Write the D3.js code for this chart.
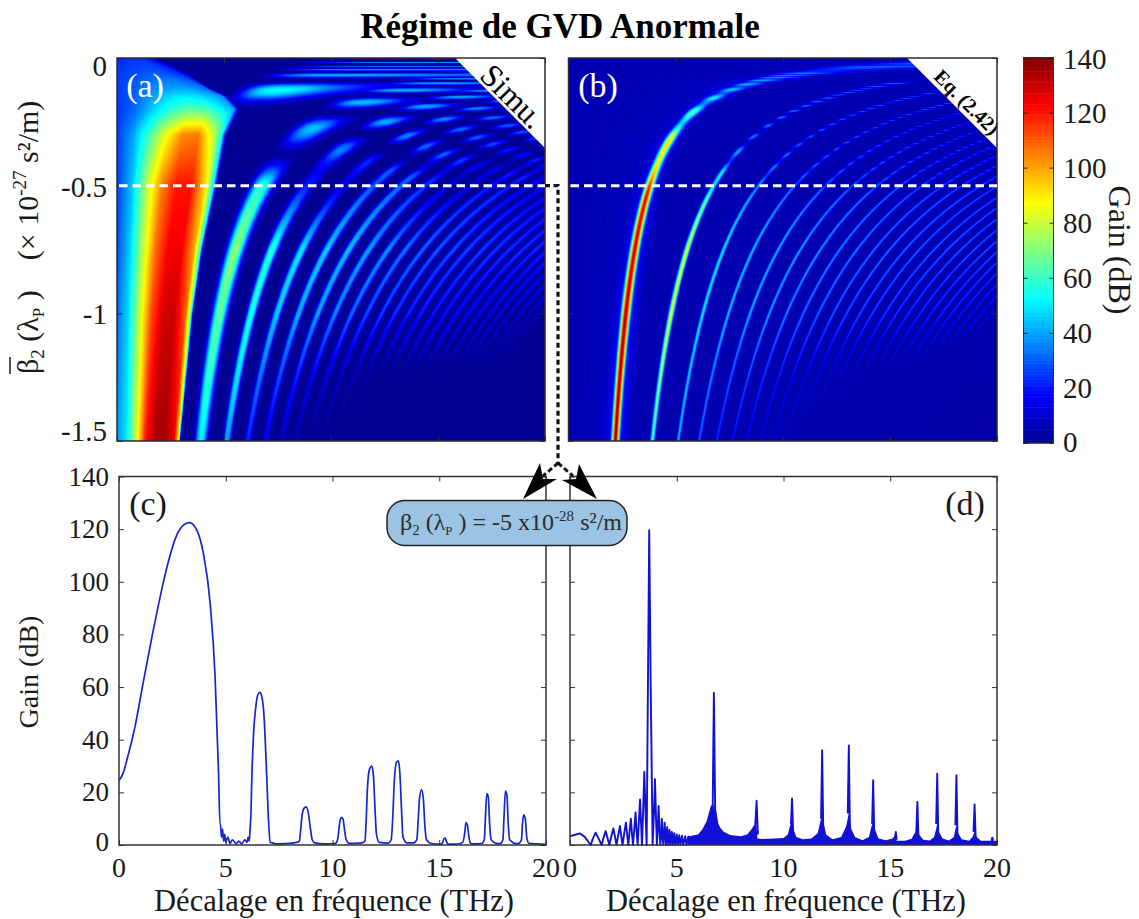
<!DOCTYPE html>
<html><head><meta charset="utf-8">
<script src="https://cdn.jsdelivr.net/npm/d3@7"></script>
<style>
html,body{margin:0;padding:0;background:#fff}
svg{display:block}
text{font-family:"Liberation Serif",serif;fill:#1a1a1a;white-space:pre}
</style></head><body>
<div id="chart"></div>
<script>
// ---------- texts and ticks ----------
const titleText = "Régime de GVD Anormale";
const xLabelText = "Décalage en fréquence (THz)";
const panelBetaTicks = [0, -0.5, -1, -1.5];
const panelFreqTicks = [0, 5, 10, 15, 20];
const gainTicks = [0, 20, 40, 60, 80, 100, 120, 140];
const jetStops = [0, 17.5, 52.5, 87.5, 122.5, 140];
const jetColors = ["#00008f", "#0000ff", "#00ffff", "#ffff00", "#ff0000", "#800000"];

// ---------- ridges of the maps: frequency (THz) of each ridge read on the row beta = -1 ----------
const ridgeFreqAtUnit = [2.68,4.80,6.28,7.48,8.49,9.39,10.2,10.98,11.68,12.38,13.0,13.63,14.2,14.8,15.34,15.89,16.43,16.95,17.45,17.91,18.38,18.85,19.3,19.75,20.2,20.6,21.0];
// |beta| rows on which the gain of every ridge was read
const ridgeLevels = [1.5,1.25,1,0.75,0.5,0.3,0.15,0.05];
const ridgeGainA = [
[0,0,0,0,0,0,58,38],[50,60,66,72,58,44,44,36],[40,50,56,58,22,42,40,34],[22,34,46,50,14,36,36,32],
[14,28,42,46,30,32,32,30],[8,22,40,44,32,30,30,28],[4,16,36,40,24,28,28,26],[0,12,32,38,10,26,26,24],
[0,8,28,34,12,24,24,22],[0,5,26,32,20,24,22,20],[0,3,24,30,22,22,21,20],[0,0,22,28,16,22,20,18],
[0,0,21,27,16,20,19,17],[0,0,20,26,16,20,18,16],[0,0,19,25,16,19,18,16],[0,0,18,24,15,18,17,15],
[0,0,16,24,15,18,17,15],[0,0,15,23,15,17,16,14],[0,0,13,22,15,17,15,14],[0,0,12,22,14,16,15,13],
[0,0,10,21,14,16,14,13],[0,0,9,20,14,15,14,12],[0,0,7,20,14,15,14,12],[0,0,6,19,14,14,13,11],
[0,0,0,18,13,14,13,10],[0,0,0,17,13,14,13,10],[0,0,0,16,13,14,12,10]];
const ridgeGainB = [
[138,136,134,130,124,88,50,34],[62,74,84,84,60,34,32,28],[44,48,52,52,40,30,28,25],[32,38,46,46,34,28,26,24],
[24,32,44,44,32,26,24,22],[20,30,42,42,32,26,22,20],[16,26,38,40,32,25,22,20],[13,22,36,38,30,24,22,18],
[10,18,34,36,28,24,20,18],[8,15,32,34,28,22,20,16],[6,13,30,34,28,22,20,16],[5,11,29,32,28,22,20,16],
[4,9,28,32,26,22,20,16],[3,8,27,32,26,22,20,16],[2,7,26,31,25,21,19,15],[2,6,25,31,24,21,19,15],
[1,5,24,30,24,21,19,14],[1,4,23,30,23,20,18,14],[0,4,23,29,23,20,18,14],[0,3,22,29,22,20,18,14],
[0,2,20,28,22,19,17,13],[0,2,18,27,22,19,17,13],[0,1,16,26,21,18,16,12],[0,0,14,26,21,18,16,12],
[0,0,10,25,20,17,15,12],[0,0,8,24,20,17,15,12],[0,0,6,24,20,17,15,12]];
const ridgeWidthA = [11,7,4.5,3.8,3.4,3.2,3,2.8,2.6,2.4,2.4,2.4,2.4,2.3,2.3,2.2,2.2,2.1,2.1,2,2,2,2,2,2,2,2];
const ridgeWidthB = [4.4,2.7,2.1,1.9,1.8,1.7,1.7,1.6,1.6,1.6,1.6,1.6,1.5,1.5,1.5,1.5,1.5,1.5,1.5,1.5,1.5,1.5,1.5,1.5,1.5,1.5,1.5];
const faintArcFreqB = [0.85,1.18,1.44,1.66,1.85,2.02,2.17,2.32,2.46];
const faintArcGainB = [9,9,9,10,10,11,12,14,16];

// ---------- broad main lobe of map (a) ----------
const lobeLevels = [1.5,1,0.75,0.5,0.3,0.2,0.15,0.12,0.05,0];
const lobeEdgeFreq = [2.95,3.55,4.0,4.65,5.05,5.65,5.1,4.35,3.0,1.7];
const lobeShare = [0,0.15,0.3,0.45,0.6,0.75,0.9,0.97,1,1.02];
const lobeGain = [
[38,50,80,120,135,135,125,90,20,0],
[32,48,80,112,128,130,110,70,12,0],
[28,46,78,108,124,125,100,62,10,0],
[26,44,78,105,120,120,89,50,8,0],
[25,40,62,85,103,106,78,55,20,0],
[24,32,46,58,65,62,48,40,15,0],
[25,30,38,46,50,48,42,36,12,0],
[25,29,34,38,40,40,36,30,10,0],
[25,26,27,28,28,26,22,15,5,0],
[22,23,24,24,24,22,18,12,4,0]];

// ---------- spectrum (c) ----------
const cFreq = [0,0.18,0.36,0.75,1.14,1.53,1.92,2.31,2.7,3.02,3.3,3.64,3.95,4.27,4.5,4.66,4.73,4.75,4.8,4.85,4.9,4.95,5,5.1,5.2,5.3,5.5,5.6,5.75,5.9,6,6.05,6.1,6.14,6.18,6.22,6.3,6.4,6.5,6.6,6.7,6.8,6.9,7.0,7.08,7.2,7.4,7.7,8.0,8.32,8.45,8.5,8.57,8.67,8.77,8.87,8.97,9.05,9.17,9.6,10.09,10.19,10.26,10.33,10.41,10.49,10.56,10.64,10.79,11.39,11.52,11.57,11.64,11.74,11.84,11.91,11.99,12.06,12.19,12.6,12.75,12.82,12.9,13.0,13.08,13.15,13.23,13.3,13.5,13.8,13.95,14.01,14.08,14.17,14.25,14.33,14.4,14.65,15.0,15.13,15.18,15.23,15.28,15.33,15.43,15.8,16.1,16.2,16.25,16.32,16.4,16.47,16.6,16.98,17.11,17.16,17.23,17.3,17.36,17.43,17.68,17.85,17.98,18.03,18.1,18.17,18.23,18.3,18.6,18.7,18.85,18.9,18.95,19.03,19.1,19.2,20];
const cGain = [24.5,27,32,45,62,78.5,94,107.6,117.6,121.5,122.5,119.7,110.8,91.8,64,28,8,8,3,6,1.5,4,1,3,0.5,2,0.5,1.5,0.5,2,1,3,1.5,6,12,25,42,52,57,58,56,48,30,10,1,0.8,0.4,0.5,0.6,1,1.5,5,11,14,14.5,12,6,2,0.8,0.4,0.5,1,3,8,10.5,10,6,2,0.6,0.8,1.5,8,22,29,30,27,14,4,1,0.7,2,10,25,31.5,32,28,14,3,0.8,0.8,2,9,18,21,18,7,2,0.5,0.3,0.5,1.5,2.5,2.6,1.5,0.3,0.3,1,5,8.5,7.5,2.5,0.5,0.4,0.5,2,10,19.5,18,8,2,0.6,0.5,2,10,20.5,19,8,2,0.5,0.5,2,8,11.5,10,3,0.6,0.2];

// ---------- spectrum (d): low oscillations, then one stroke per narrow peak (null = pen up) ----------
const dFreq = [0,0.2,0.47,0.7,0.97,1.08,1.2,1.34,1.48,1.58,1.67,1.76,1.84,1.94,2.03,2.11,2.18,2.26,2.34,2.4,2.46,2.54,2.62,2.68,2.73,2.79,2.85,2.9,2.95,3.01,3.07,3.12,3.17,3.22,3.28,3.33,3.37,3.43,3.48,3.54,3.59,3.65,3.71,3.78,3.87,3.93,3.98,4.03,4.07,4.11,4.15,4.19,4.23,4.27,4.3,4.33,4.37,4.43,4.49,4.55,4.6,4.66,4.71,4.77,4.82,4.88,4.93,5,5.05,5.12,5.17,5.25,5.3,5.4,5.45,5.55,5.6,5.6,6.68,6.74,6.8,6.8,8.68,8.74,8.8,8.8,10.35,10.4,10.45,10.45,11.76,11.81,11.86,11.86,13.01,13.06,13.11,13.11,14.15,14.2,14.25,14.25,15.22,15.26,15.3,15.3,16.22,16.27,16.32,16.32,17.15,17.2,17.25,17.25,18.05,18.1,18.15,18.15,18.9,18.95,19.0,19.0,19.74,19.78,19.82];
const dGain = [3.4,3.8,4.4,3,0,2.6,4.7,2.4,0,3,5.3,2.6,0,3.4,6.3,3,0,3.8,7.2,3.4,0,4.4,8.5,3.8,0,5,10,4.4,0,6,12.4,5,0,8,17.3,8,0,14,27.8,12,0,60,119.6,60,0,12,25,10,0,6,14.8,6,0,4,10,4,0,8.5,0,6.8,0,5.7,0,5,0,4.5,0,4,0,3.7,0,3.5,0,3.3,0,3.2,0,null,12,57.8,12,null,8,16.8,4,null,8,17.7,5,null,10,36,6,null,12,37.8,6,null,8,24.6,4,null,2.5,5,2,null,5,16.4,3,null,8,27.1,4,null,7.5,26.5,3,null,5,15.4,3,null,2,2.8,2];
const dBandFreq = [5.5,6,6.2,6.4,6.5,6.6,6.72,6.85,6.95,7.05,7.2,7.5,8,8.3,8.5,8.65,8.72,8.78,9,9.6,10,10.2,10.33,10.4,10.47,10.6,10.9,11.3,11.6,11.73,11.81,11.89,12,12.3,12.7,12.93,13.06,13.18,13.35,13.7,14,14.12,14.2,14.28,14.45,14.8,15.1,15.26,15.3,15.7,16,16.18,16.27,16.35,16.55,16.85,17.05,17.15,17.2,17.28,17.45,17.75,17.98,18.05,18.1,18.18,18.35,18.7,18.85,18.95,19.05,19.25,19.7,19.8,19.85,20];
const dBandTop = [3.2,4,6,9,12,15,15,13,8,6.5,5,3.8,3.3,4,6,8,10,2.5,2.3,2.5,2.7,4,8,10,6,3,2.2,2.5,4.5,9,11,8,4,2.2,3,7,12,6,3,1.8,3,7,9,6,2.5,1.8,2.5,4,1.6,1.6,2.4,5,7,4,2,1.7,3,6,8.5,5,2.5,1.7,3,6,7.5,4.5,2.2,1.6,3,5,3,1.6,1.6,2.8,1.6,1.6];

// ---------- layout ----------
const W = 1139, H = 919;
const mapTop = 58, mapBottom = 441;
const mapA = {left:117, right:545}, mapB = {left:568.5, right:997};
const specTop = 476.5, specBottom = 845;
const specC = {left:119, right:546}, specD = {left:570, right:997};
const barBox = {left:1023.5, right:1053.5, top:57.5, bottom:443};

const svg = d3.select("#chart").append("svg").attr("width",W).attr("height",H).attr("viewBox",[0,0,W,H]);
const jet = d3.scaleLinear().domain(jetStops).range(jetColors).clamp(true);

function renderMap(box, gainRows, widths, opt){
  const sx = d3.scaleLinear().domain([0,20]).range([box.left,box.right]);
  const sy = d3.scaleLinear().domain([0,-1.5]).range([mapTop,mapBottom]);
  const w = Math.round(box.right-box.left), h = mapBottom-mapTop;
  const cv = document.createElement("canvas"); cv.width=w; cv.height=h;
  const ctx = cv.getContext("2d"), img = ctx.createImageData(w,h);
  const pxPerF = (box.right-box.left)/20, pxPerB = h/1.5;
  const ampScales = gainRows.map(r=>d3.scaleLinear().domain(ridgeLevels).range(r).clamp(true));
  const lobeCols = lobeShare.map((_,j)=>d3.scaleLinear().domain(lobeLevels).range(lobeGain.map(r=>r[j])).clamp(true));
  const edge = d3.scaleLinear().domain(lobeLevels).range(lobeEdgeFreq).clamp(true);
  const rgbCache = d3.range(0,1401).map(i=>d3.rgb(jet(i/10)));
  const ridgeAt = d3.scalePow().exponent(-0.5).domain([1,0.25]).range([1,2]);
  // pixel distance from a point to the curve f = c / sqrt(beta)
  const dist=(f,beta,c,fc)=>{
    const dx=Math.abs(f-fc)*pxPerF;
    const br=(c/f)*(c/f), dy=Math.abs(beta-br)*pxPerB;
    return dx*dy/Math.sqrt(dx*dx+dy*dy+1e-6);
  };
  for(let row=0;row<h;row++){
    const beta = Math.max(0.003,-sy.invert(mapTop+row+0.5));
    const factor = ridgeAt(beta);
    const ramp = opt.beadRamp(beta);
    const list = ridgeFreqAtUnit.map((c,k)=>({c, f:c*factor, amp:ampScales[k](beta),
      w:widths[k]*Math.min(k<3?opt.capNear:opt.capFar,Math.pow(1/beta,0.45)), k}));
    const arcs = opt.arcs?opt.arcs.map((c,i)=>({c,f:c*factor,amp:opt.arcGain[i]*(beta<0.08?0.6:1)})):[];
    let lobe=null;
    if(opt.lobe){ lobe={edge:edge(beta), s:d3.scaleLinear().domain(lobeShare).range(lobeCols.map(c=>c(beta))).clamp(true)}; }
    for(let col=0;col<w;col++){
      const f=(col+0.5)/pxPerF;
      let g=opt.base(f,beta);
      for(const r of list){
        if(r.amp<=0) continue;
        const d=dist(f,beta,r.c,r.f);
        if(d>45) continue;
        const q=d/r.w;
        let v=0;
        if(q<3){ v=r.amp*Math.exp(-Math.pow(q,opt.sharp)); }
        if(ramp>0){
          const phase=Math.PI*(r.f*r.f-opt.beadStart-opt.beadStep*r.k)/opt.beadPeriod;
          const m=Math.cos(phase), depth=ramp*(r.k===0?opt.firstBead:1);
          v*=1-depth+depth*m*m;
        }
        if(opt.halo){
          const haloAmp=r.k===0?0.2:0.12;
          v=Math.max(v,r.amp*haloAmp*Math.exp(-d/(r.k===0?11:4)));
        }
        if(v>g) g=v;
      }
      for(const r of arcs){
        const d=dist(f,beta,r.c,r.f);
        if(d<3){ const v=r.amp*Math.exp(-(d*d)/1.6); if(v>g) g=v; }
      }
      if(lobe){ const v=lobe.s(f/lobe.edge); if(v>g) g=v; }
      const c=rgbCache[Math.round(Math.min(140,g)*10)], i=4*(row*w+col);
      img.data[i]=c.r; img.data[i+1]=c.g; img.data[i+2]=c.b; img.data[i+3]=255;
    }
  }
  ctx.putImageData(img,0,0);
  svg.append("image").attr("href",cv.toDataURL()).attr("x",box.left).attr("y",mapTop)
    .attr("width",box.right-box.left).attr("height",h).attr("preserveAspectRatio","none")
    .style("filter","blur(0.6px)");
  return {sx,sy};
}

const mapScaleA = renderMap(mapA, ridgeGainA, ridgeWidthA, {
  sharp:2.6, lobe:true, halo:false, base:()=>0.6, firstBead:1, capNear:1.5, capFar:1.15,
  beadRamp:b=>d3.scaleLinear().domain([0.5,0.38]).range([0,1]).clamp(true)(b),
  beadStart:58, beadStep:25, beadPeriod:50
});
const mapScaleB = renderMap(mapB, ridgeGainB, ridgeWidthB, {
  sharp:2, lobe:false, halo:true, base:(f,b)=>5.5-Math.min(2,f*b/15), firstBead:0.45, capNear:1, capFar:1,
  beadRamp:b=>d3.scaleLinear().domain([0.55,0.3]).range([0,0.8]).clamp(true)(b),
  beadStart:10, beadStep:5, beadPeriod:12,
  arcs:faintArcFreqB, arcGain:faintArcGainB
});

// corner flags
function corner(box, label, size, weight, cx, cy){
  svg.append("path").attr("d",d3.line()([[box.right-90,mapTop],[box.right,mapTop],[box.right,mapTop+90]])+"Z").attr("fill","#fff");
  svg.append("text").attr("transform",`translate(${cx},${cy}) rotate(45)`).attr("text-anchor","middle")
     .attr("font-size",size).attr("font-weight",weight).style("fill","#000").text(label);
}
corner(mapA,"Simu.",32,"normal",505,104);
corner(mapB,"Eq. (2.42)",20,"bold",962,107);

function frame(box,top,bottom,sx,sy,yTicks,stroke){
  const g=svg.append("g");
  const size=5;
  g.append("g").attr("transform",`translate(0,${bottom})`).call(d3.axisBottom(sx).tickValues(panelFreqTicks).tickSizeInner(-size).tickSizeOuter(0).tickFormat(""));
  g.append("g").attr("transform",`translate(0,${top})`).call(d3.axisTop(sx).tickValues(panelFreqTicks).tickSizeInner(-size).tickSizeOuter(0).tickFormat(""));
  g.append("g").attr("transform",`translate(${box.left},0)`).call(d3.axisLeft(sy).tickValues(yTicks).tickSizeInner(-size).tickSizeOuter(0).tickFormat(""));
  g.append("g").attr("transform",`translate(${box.right},0)`).call(d3.axisRight(sy).tickValues(yTicks).tickSizeInner(-size).tickSizeOuter(0).tickFormat(""));
  g.selectAll(".domain").remove();
  g.selectAll("line").attr("stroke",stroke).attr("stroke-width",1);
  g.append("rect").attr("x",box.left).attr("y",top).attr("width",box.right-box.left).attr("height",bottom-top)
    .attr("fill","none").attr("stroke",stroke).attr("stroke-width",1.5);
}
frame(mapA,mapTop,mapBottom,mapScaleA.sx,mapScaleA.sy,panelBetaTicks,"#2a2a3a");
frame(mapB,mapTop,mapBottom,mapScaleB.sx,mapScaleB.sy,panelBetaTicks,"#2a2a3a");

// dashed level lines
[[mapA,mapScaleA],[mapB,mapScaleB]].forEach(([b,s])=>{
  svg.append("line").attr("x1",b.left+2).attr("x2",b.right).attr("y1",s.sy(-0.5)).attr("y2",s.sy(-0.5))
    .attr("stroke","#fff").attr("stroke-width",3).attr("stroke-dasharray","8.5,5");
});

// tick labels of the maps
function label(x,y,t,size,anchor,fill){
  return svg.append("text").attr("x",x).attr("y",y).attr("font-size",size).attr("text-anchor",anchor||"middle").style("fill",fill||"#1a1a1a").text(t);
}
panelBetaTicks.forEach(v=>label(107,mapScaleA.sy(v)+(v===0?18:v===-1.5?0:11),String(v),29,"end"));

// colour bar
const barY = d3.scaleLinear().domain([0,140]).range([barBox.bottom,barBox.top]);
svg.append("g").selectAll("rect").data(d3.range(0,140,1)).join("rect")
  .attr("x",barBox.left).attr("width",barBox.right-barBox.left)
  .attr("y",d=>barY(d+1)).attr("height",d=>barY(d)-barY(d+1)+0.5).attr("fill",d=>jet(d+0.5));
svg.append("rect").attr("x",barBox.left).attr("y",barBox.top).attr("width",barBox.right-barBox.left).attr("height",barBox.bottom-barBox.top).attr("fill","none").attr("stroke","#333");
const barAxis = svg.append("g").attr("transform",`translate(${barBox.right},0)`).call(d3.axisRight(barY).tickValues(gainTicks).tickSizeInner(-4).tickSizeOuter(0).tickFormat(""));
barAxis.select(".domain").remove(); barAxis.selectAll("line").attr("stroke","#222");
const barAxisL = svg.append("g").attr("transform",`translate(${barBox.left},0)`).call(d3.axisLeft(barY).tickValues(gainTicks).tickSizeInner(-4).tickSizeOuter(0).tickFormat(""));
barAxisL.select(".domain").remove(); barAxisL.selectAll("line").attr("stroke","#222");
gainTicks.forEach(v=>label(1063,v===140?69:v===0?452:barY(v)+10,String(v),29,"start"));
svg.append("text").attr("transform","translate(1109,250) rotate(90)").attr("text-anchor","middle").attr("font-size",32).text("Gain (dB)");

// spectra
function spectrum(box,xs,ys,color,curve,lw,band){
  const sx=d3.scaleLinear().domain([0,20]).range([box.left,box.right]);
  const sy=d3.scaleLinear().domain([0,140]).range([specBottom,specTop]);
  if(band){
    svg.append("path").attr("fill",color)
      .attr("d",d3.area().x(i=>sx(band.x[i])).y0(sy(0)).y1(i=>sy(band.y[i]))(d3.range(band.x.length)));
  }
  svg.append("path").attr("fill","none").attr("stroke",color).attr("stroke-width",lw).attr("stroke-linejoin","round")
    .attr("d",d3.line().defined(i=>ys[i]!==null).x(i=>sx(xs[i])).y(i=>sy(ys[i])).curve(curve)(d3.range(xs.length)));
  frame(box,specTop,specBottom,sx,sy,gainTicks,"#333");
  panelFreqTicks.forEach(v=>label(sx(v),877,String(v),28));
  return {sx,sy};
}
const specScaleC=spectrum(specC,cFreq,cGain,"#1228cc",d3.curveMonotoneX,1.7);
spectrum(specD,dFreq,dGain,"#1010d6",d3.curveLinear,1.9,{x:dBandFreq,y:dBandTop});
gainTicks.forEach(v=>label(109,specScaleC.sy(v)+(v===0?6:9),String(v),27,"end"));

svg.append("text").attr("transform","translate(38,672) rotate(-90)").attr("text-anchor","middle").attr("font-size",28).text("Gain (dB)");
label(334,911,xLabelText,30.5);
label(786,911,xLabelText,30.5);

// titles and panel tags
svg.append("text").attr("x",560).attr("y",38).attr("text-anchor","middle").attr("font-size",35).attr("font-weight","bold").style("fill","#000").text(titleText);
label(145,97,"(a)",34,"middle","#fff");
label(598,97,"(b)",34,"middle","#fff");
label(148,515,"(c)",34);
label(965,515,"(d)",34);

// rich text helper
function rich(sel,parts){
  parts.forEach(p=>{
    sel.append("tspan").attr("dy",p.dy||0).attr("font-size",p.size||null).text(p.t);
  });
}
// y label of the maps
const yl = svg.append("g").attr("transform","translate(38,374) rotate(-90)");
rich(yl.append("text").attr("font-size",30),[
  {t:"β"},{t:"2",dy:6,size:19},{t:" (λ",dy:-6},{t:"P",dy:6,size:17},{t:" )    (× 10",dy:-6},
  {t:"-27",dy:-12,size:19},{t:" s²/m)",dy:12}
]);
yl.append("line").attr("x1",0).attr("x2",17).attr("y1",-28).attr("y2",-28).attr("stroke","#1a1a1a").attr("stroke-width",1.5);

// annotation: dotted guide, arrows, call-out
const guideX=558;
svg.append("path").attr("d",`M545,${mapScaleA.sy(-0.5)}H${guideX}V463`).attr("fill","none").attr("stroke","#111").attr("stroke-width",3.2).attr("stroke-dasharray","5,3.5");
svg.append("path").attr("d",`M${guideX},463L543,476`).attr("fill","none").attr("stroke","#111").attr("stroke-width",3).attr("stroke-dasharray","5,3");
svg.append("path").attr("d",`M${guideX},463L573,476`).attr("fill","none").attr("stroke","#111").attr("stroke-width",3).attr("stroke-dasharray","5,3");
svg.append("path").attr("d","M523,499L540,463L543,479L557,479Z").attr("fill","#000");
svg.append("path").attr("d","M597,499L579,464L576,479L562,480Z").attr("fill","#000");
svg.append("rect").attr("x",387).attr("y",500.5).attr("width",240).attr("height",45).attr("rx",18).attr("ry",18)
  .attr("fill","#9bc3e3").attr("stroke","#222").attr("stroke-width",1.5);
const call=svg.append("text").attr("x",400).attr("y",530).attr("font-size",24).style("fill","#2b2b2b");
rich(call,[{t:"β"},{t:"2",dy:5,size:15},{t:" (λ",dy:-5},{t:"P",dy:5,size:13},{t:" ) = -5 x10",dy:-5},{t:"-28",dy:-9,size:15},{t:" s²/m",dy:9}]);
</script>
</body></html>
